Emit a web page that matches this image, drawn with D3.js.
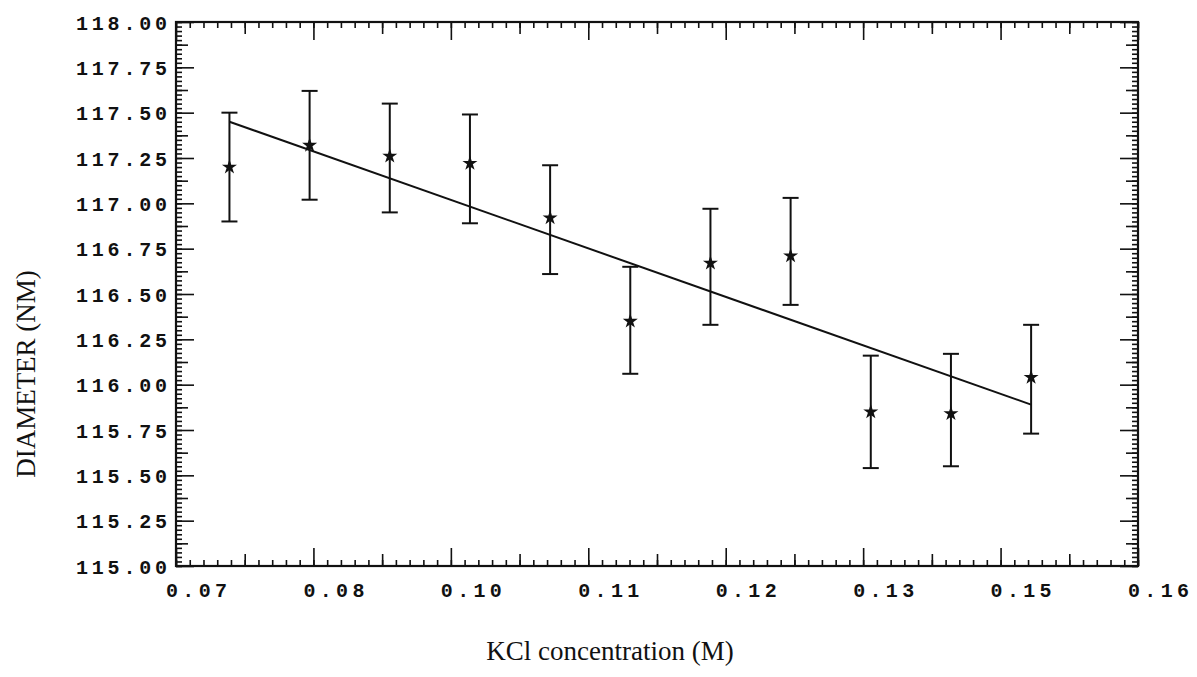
<!DOCTYPE html>
<html>
<head>
<meta charset="utf-8">
<script src="https://cdn.jsdelivr.net/npm/d3@7"></script>
<style>
  body { margin: 0; background: #fff; }
</style>
</head>
<body>
<svg id="chart" width="1197" height="677"></svg>
<script>
// KCl concentration (M) of each measurement
let conc = [0.075, 0.0825, 0.09, 0.0975, 0.105, 0.1125, 0.12, 0.1275, 0.135, 0.1425, 0.15];
// measured diameter (nm) and error bar ends
let diameter = [117.20, 117.32, 117.26, 117.22, 116.92, 116.35, 116.67, 116.71, 115.85, 115.84, 116.04];
let upper = [117.50, 117.62, 117.55, 117.49, 117.21, 116.65, 116.97, 117.03, 116.16, 116.17, 116.33];
let lower = [116.90, 117.02, 116.95, 116.89, 116.61, 116.06, 116.33, 116.44, 115.54, 115.55, 115.73];
// fitted line, end points
let fitX = [0.075, 0.15];
let fitY = [117.45, 115.89];

let xTickLabels = ["0.07", "0.08", "0.10", "0.11", "0.12", "0.13", "0.15", "0.16"];
let yTickLabels = ["115.00", "115.25", "115.50", "115.75", "116.00", "116.25", "116.50",
                   "116.75", "117.00", "117.25", "117.50", "117.75", "118.00"];

let pLeft = 176, pRight = 1138, pTop = 22, pBottom = 566;
let tickfont = "'Liberation Mono', 'DejaVu Sans Mono', monospace";
let titlefont = "'Liberation Serif', 'Times New Roman', serif";

let svg = d3.select("#chart");

let x = d3.scaleLinear().domain([0.07, 0.16]).range([pLeft, pRight]);
let y = d3.scaleLinear().domain([115, 118]).range([pBottom, pTop]);

// tick positions: 7 equal steps on x, 0.25 on y
let xStep = 0.09 / 7;
let xMajor = d3.range(8).map(i => 0.07 + i * xStep);
let xMid = d3.range(7).map(i => 0.07 + (i + 0.5) * xStep);
let xMinor = d3.range(71).map(i => 0.07 + i * xStep / 10);
let yMajor = yTickLabels.map(Number);
let yMid = d3.range(12).map(i => 115.125 + i * 0.25);
let yMinor = d3.range(121).map(i => 115 + i * 0.025);

function styleAxis(g) {
	g.select(".domain").remove();
	g.selectAll("line").attr("stroke", "#111").attr("stroke-width", 1.6);
}

function drawTicks(axisFn, scale, pos, values, len, labels) {
	let a = axisFn(scale).tickValues(values).tickSize(-len)
		.tickFormat(labels ? (d, i) => labels[i] : "");
	let g = svg.append("g").attr("transform", pos).call(a).call(styleAxis);
	return g;
}

// bottom
drawTicks(d3.axisBottom, x, `translate(0,${pBottom})`, xMinor, 6);
drawTicks(d3.axisBottom, x, `translate(0,${pBottom})`, xMid, 12);
let gx = drawTicks(d3.axisBottom, x, `translate(0,${pBottom})`, xMajor, 18, xTickLabels);
// top
drawTicks(d3.axisTop, x, `translate(0,${pTop})`, xMinor, 6);
drawTicks(d3.axisTop, x, `translate(0,${pTop})`, xMid, 12);
drawTicks(d3.axisTop, x, `translate(0,${pTop})`, xMajor, 18);
// left
drawTicks(d3.axisLeft, y, `translate(${pLeft},0)`, yMinor, 6);
drawTicks(d3.axisLeft, y, `translate(${pLeft},0)`, yMid, 12);
let gy = drawTicks(d3.axisLeft, y, `translate(${pLeft},0)`, yMajor, 18, yTickLabels);
// right
drawTicks(d3.axisRight, y, `translate(${pRight},0)`, yMinor, 6);
drawTicks(d3.axisRight, y, `translate(${pRight},0)`, yMid, 12);
drawTicks(d3.axisRight, y, `translate(${pRight},0)`, yMajor, 18);

gx.selectAll("text")
	.attr("y", 17)
	.attr("dx", 20)
	.attr("font-family", tickfont)
	.attr("font-weight", "bold")
	.attr("font-size", 20)
	.attr("fill", "#111")
	.attr("textLength", 61)
	.attr("lengthAdjust", "spacing");

gy.selectAll("text")
	.attr("x", -9)
	.attr("dy", "0.36em")
	.attr("font-family", tickfont)
	.attr("font-weight", "bold")
	.attr("font-size", 20)
	.attr("fill", "#111")
	.attr("textLength", 91)
	.attr("lengthAdjust", "spacing");

// frame
svg.append("rect")
	.attr("x", pLeft)
	.attr("y", pTop)
	.attr("width", pRight - pLeft)
	.attr("height", pBottom - pTop)
	.attr("fill", "none")
	.attr("stroke", "#111")
	.attr("stroke-width", 2.2);

// fitted line
svg.append("path")
	.datum(fitX.map((d, i) => [d, fitY[i]]))
	.attr("fill", "none")
	.attr("stroke", "#111")
	.attr("stroke-width", 2)
	.attr("d", d3.line().x(d => x(d[0])).y(d => y(d[1])));

// error bars
let pts = conc.map((d, i) => ({x: d, y: diameter[i], hi: upper[i], lo: lower[i]}));
let bars = svg.append("g").selectAll("g").data(pts).enter().append("g")
	.attr("stroke", "#111")
	.attr("stroke-width", 2);

bars.append("line")
	.attr("x1", d => x(d.x)).attr("x2", d => x(d.x))
	.attr("y1", d => y(d.hi)).attr("y2", d => y(d.lo));
bars.append("line")
	.attr("x1", d => x(d.x) - 8).attr("x2", d => x(d.x) + 8)
	.attr("y1", d => y(d.hi)).attr("y2", d => y(d.hi));
bars.append("line")
	.attr("x1", d => x(d.x) - 8).attr("x2", d => x(d.x) + 8)
	.attr("y1", d => y(d.lo)).attr("y2", d => y(d.lo));

// star markers
svg.append("g").selectAll("path").data(pts).enter().append("path")
	.attr("transform", d => `translate(${x(d.x)},${y(d.y)})`)
	.attr("d", d3.symbol().type(d3.symbolStar).size(70))
	.attr("fill", "#111");

// axis titles
svg.append("text")
	.attr("x", 610)
	.attr("y", 660)
	.attr("text-anchor", "middle")
	.attr("font-family", titlefont)
	.attr("font-size", 27)
	.attr("fill", "#111")
	.text("KCl concentration (M)");

svg.append("text")
	.attr("transform", "translate(35,374) rotate(-90)")
	.attr("text-anchor", "middle")
	.attr("font-family", titlefont)
	.attr("font-size", 27)
	.attr("fill", "#111")
	.text("DIAMETER (NM)");
</script>
</body>
</html>
